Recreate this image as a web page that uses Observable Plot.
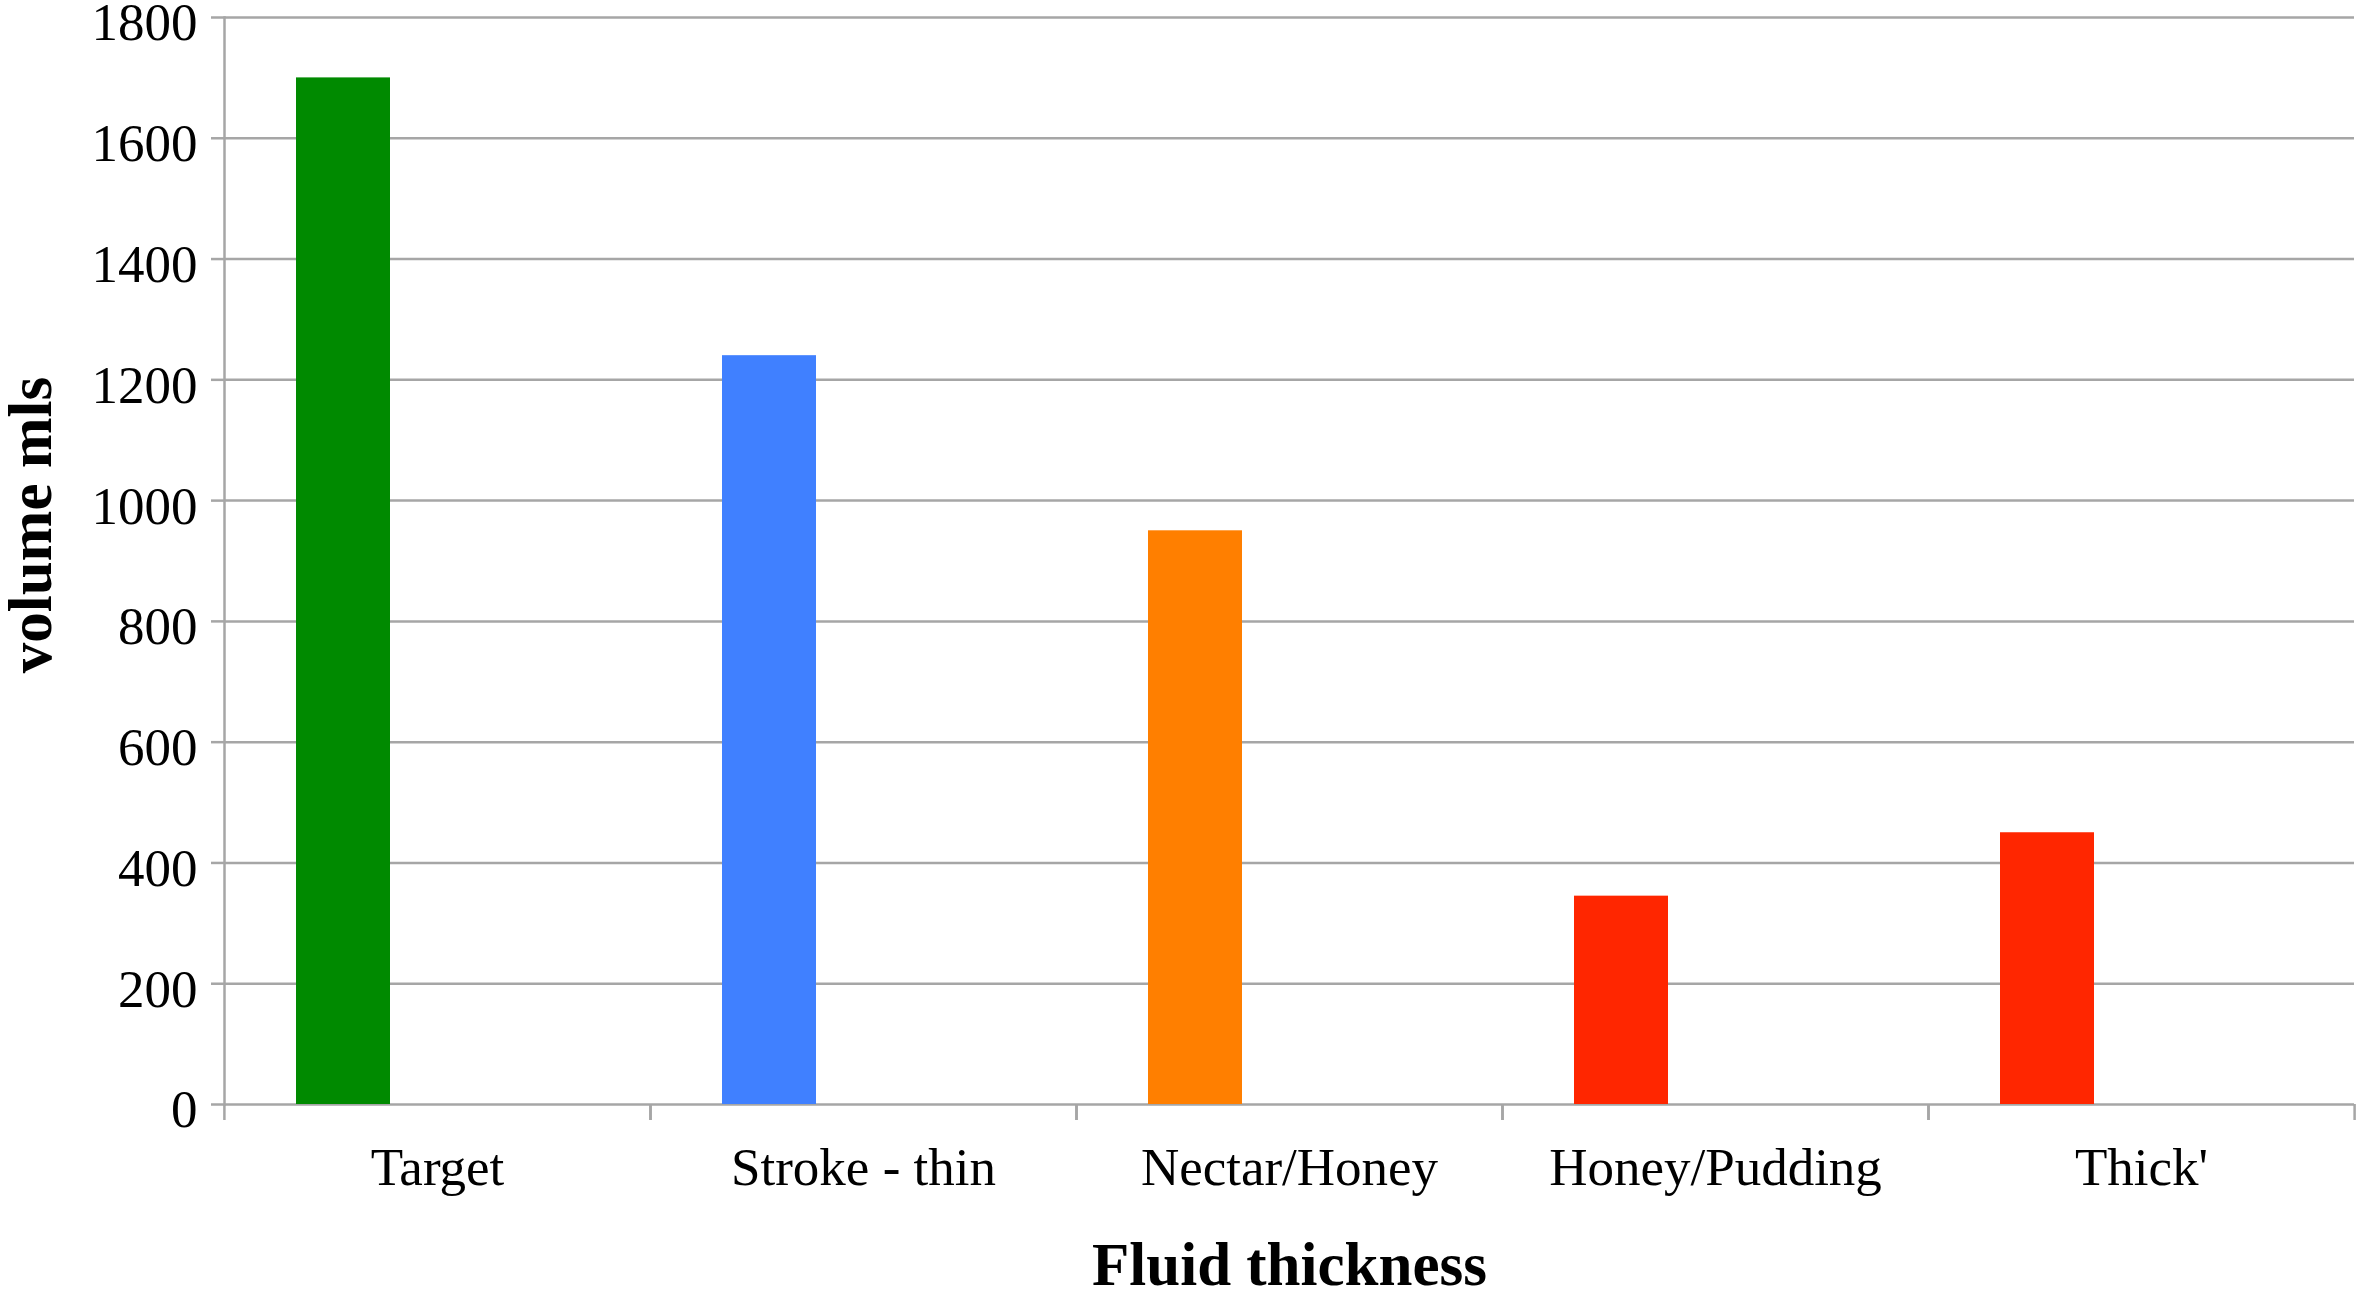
<!DOCTYPE html>
<html>
<head>
<meta charset="utf-8">
<script src="https://cdn.jsdelivr.net/npm/d3@7"></script>
<script src="https://cdn.jsdelivr.net/npm/@observablehq/plot@0.6"></script>
<style>
  html, body { margin: 0; padding: 0; background: #ffffff; }
</style>
</head>
<body>
<div id="chart"></div>
<script>
// ---- data ----
const categories = ["Target", "Stroke - thin", "Nectar/Honey", "Honey/Pudding", "Thick'"];
const volumes = [1700, 1240, 950, 345, 450];
const barColors = ["#008a00", "#4080ff", "#ff7f00", "#ff2600", "#ff2600"];
const yTicks = [0, 200, 400, 600, 800, 1000, 1200, 1400, 1600, 1800];
// the spreadsheet cluster has three series slots; each bar sits in the first
const seriesSlots = ["s1", "s2", "s3"];
const barSlot = "s1";
const yLabel = "volume mls";
const xLabel = "Fluid thickness";

const data = categories.map((c, i) => ({category: c, volume: volumes[i], color: barColors[i], slot: barSlot}));

// ---- layout ----
const W = 2362, H = 1293;
const mL = 223, mR = 8, mT = 17, mB = 189;
const band = (W - mL - mR) / categories.length;
const gridColor = "#a6a6a6";
const font = "'Liberation Serif', 'DejaVu Serif', serif";

const chart = Plot.plot({
  width: W,
  height: H,
  marginLeft: mL,
  marginRight: mR,
  marginTop: mT,
  marginBottom: mB,
  style: {fontFamily: font, fontSize: "53px", color: "#000", background: "#ffffff", overflow: "visible"},
  fx: {domain: categories, padding: 0, axis: null, label: null},
  x: {domain: seriesSlots, paddingInner: 0, paddingOuter: 0.75, axis: null},
  y: {domain: [0, 1800], axis: null},
  color: {type: "identity"},
  marks: [
    Plot.gridY(yTicks, {stroke: gridColor, strokeOpacity: 1, strokeWidth: 2.5}),
    Plot.frame({anchor: "left", stroke: gridColor, strokeWidth: 2.5, facetAnchor: "left"}),
    Plot.barY(data, {fx: "category", x: "slot", y: "volume", fill: "color"}),
    // y tick marks
    Plot.axisY(yTicks, {tickSize: 13, text: null, stroke: gridColor, strokeWidth: 2.5, label: null}),
    // y tick labels
    Plot.axisY(yTicks, {
      tickSize: 13, tickPadding: 14, strokeOpacity: 0, dy: 6,
      fill: "#000", fontSize: 53, label: null, tickFormat: d3.format("d")
    }),
    Plot.text([yLabel], {
      frameAnchor: "left", textAnchor: "middle", rotate: -90, dx: -193, dy: -36,
      fontWeight: "bold", fontSize: 61, fill: "#000", facetAnchor: "left"
    }),
    Plot.axisFx({
      anchor: "bottom", tickSize: 0, tickPadding: 43, fontSize: 53, fill: "#000",
      label: null
    }),
    Plot.axisFx([], {
      anchor: "bottom", tickSize: 0, text: null,
      label: xLabel, labelAnchor: "center", labelOffset: 180, labelArrow: "none",
      fontWeight: "bold", fontSize: 61, fill: "#000"
    }),
    Plot.axisFx({anchor: "bottom", tickSize: 16, text: null, stroke: gridColor, strokeWidth: 2.5, dx: -band / 2, label: null}),
    Plot.axisFx([categories[categories.length - 1]], {anchor: "bottom", tickSize: 16, text: null, stroke: gridColor, strokeWidth: 2.5, dx: band / 2, label: null})
  ]
});

document.getElementById("chart").appendChild(chart);
</script>
</body>
</html>
